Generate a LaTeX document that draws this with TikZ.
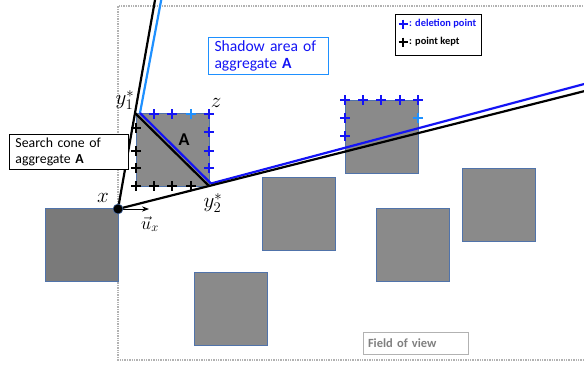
\RequirePackage{fix-cm}
\documentclass[tikz,border=0pt]{standalone}
\usepackage{fontspec}
\setmainfont{Carlito}
\usepackage{amsmath}
\usetikzlibrary{calc,arrows.meta}
\definecolor{aggfill}{RGB}{138,138,138}
\definecolor{aggdark}{RGB}{122,122,122}
\definecolor{aggedge}{RGB}{80,115,170}
\definecolor{delblue}{RGB}{20,20,245}
\definecolor{lightblue}{RGB}{30,144,255}
\tikzset{
  agg/.style={draw=aggedge, fill=aggfill, line width=0.6pt, minimum size=73pt, inner sep=0pt},
  cone/.style={black, line width=2.2pt},
  shadow/.style={delblue, line width=2.2pt},
  kept/.style={black, line width=2.4pt},
  deleted/.style={delblue, line width=2.4pt},
  infobox/.style={draw, fill=white, line width=0.8pt, align=left, inner xsep=6pt,
    font=\fontsize{13.8}{16}\selectfont},
  sym/.style={font=\fontsize{21}{23}\selectfont}
}
\begin{document}
\begin{tikzpicture}[x=1pt,y=-1pt]
  \useasboundingbox (0,0) rectangle (584,365);
  \clip (0,0) rectangle (584,365);
  % field of view
  \draw[gray!60, line width=1.4pt, densely dotted] (600,6) -- (118,6) -- (118,360) -- (600,360);
  \node[draw=gray!60, line width=1pt, text=gray, font=\fontsize{12.5}{14}\selectfont\bfseries,
    minimum width=105pt, minimum height=22pt, inner xsep=5pt, text width=95pt] (fov) at (415.5,343) {Field of view};
  % aggregates
  \node[agg, fill=aggdark] (a0) at (81.5,245) {};
  \node[agg] (aggA) at (172.5,150) {};
  \node[agg] (a1) at (381.5,136.5) {};
  \node[agg] (a2) at (299,214) {};
  \node[agg] (a3) at (412.5,245) {};
  \node[agg] (a4) at (499,204.5) {};
  \node[agg] (a5) at (231,309) {};
  \node[font=\fontsize{18}{19}\selectfont\bfseries] (labA) at (184,140) {A};
  % cone and shadow
  \coordinate (x) at (118,209);
  \coordinate (y1) at (135,113);
  \coordinate (y2) at (209,186);
  \coordinate (s1) at (140,113);
  \coordinate (s2) at (211,183.5);
  \draw[lightblue, line width=2.2pt] (s1) -- ++(22,-117.3);
  \draw[shadow] (s2) -- ++(380,-101.3);
  \draw[shadow] (s1) -- (s2);
  \draw[cone] (x) -- ($(x)!2.3!(y1)$);
  \draw[cone] (x) -- ($(x)!5.3!(y2)$);
  \draw[cone] (y1) -- (y2);
  % points
  \foreach \px/\py in {136/128,136/151,136/168,136/186,154/186,172/186,191/186}
    \draw[kept] (\px-5,\py) -- (\px+5,\py) (\px,\py-5) -- (\px,\py+5);
  \foreach \px/\py in {154/114,172/114,209/114,209/132,209/151,209/168,
                      345/100,363/100,381/100,400/100,418/100,345/118,345/136}
    \draw[deleted] (\px-5,\py) -- (\px+5,\py) (\px,\py-5) -- (\px,\py+5);
  \foreach \px/\py in {191/114,418/118}
    \draw[lightblue, line width=2.4pt] (\px-5,\py) -- (\px+5,\py) (\px,\py-5) -- (\px,\py+5);
  % point x and direction
  \draw[-{Stealth[length=7pt]}, line width=0.8pt] (x) -- ++(31,0) coordinate (uend);
  \filldraw[black, draw=aggedge, line width=0.6pt] (x) circle (5pt);
  \node[sym] (lx) at (103,198) {$x$};
  \node[sym] (ly1) at (125,100) {$y_1^{*}$};
  \node[sym] (lz) at (216,103) {$z$};
  \node[sym] (ly2) at (213,203) {$y_2^{*}$};
  \node[font=\fontsize{18}{20}\selectfont] (lu) at (150,224) {$\vec{u}_{x}$};
  % boxes
  \node[infobox, minimum width=119pt, minimum height=35pt, text width=106pt] (conebox) at (68.5,151.5)
    {Search cone of\\aggregate \textbf{A}};
  \node[infobox, draw=lightblue, text=delblue, minimum width=120pt, minimum height=34pt, text width=107pt,
    font=\fontsize{15.6}{16.5}\selectfont] (shadowbox) at (268,56)
    {Shadow area of\\aggregate \textbf{A}};
  % legend
  \node[draw, line width=0.8pt, minimum width=86pt, minimum height=41pt] (legend) at (438,34.5) {};
  \draw[deleted, line width=2pt] (403-4.5,24) -- (403+4.5,24) (403,19.5) -- (403,28.5);
  \draw[kept, line width=2pt] (403-4.5,42) -- (403+4.5,42) (403,37.5) -- (403,46.5);
  \node[anchor=west, text=delblue, font=\fontsize{10.4}{11}\selectfont\bfseries, inner sep=0pt] (ldel) at (409,24) {: deletion point};
  \node[anchor=west, font=\fontsize{10.4}{11}\selectfont\bfseries, inner sep=0pt] (lkept) at (409,42) {: point kept};
\end{tikzpicture}
\end{document}
